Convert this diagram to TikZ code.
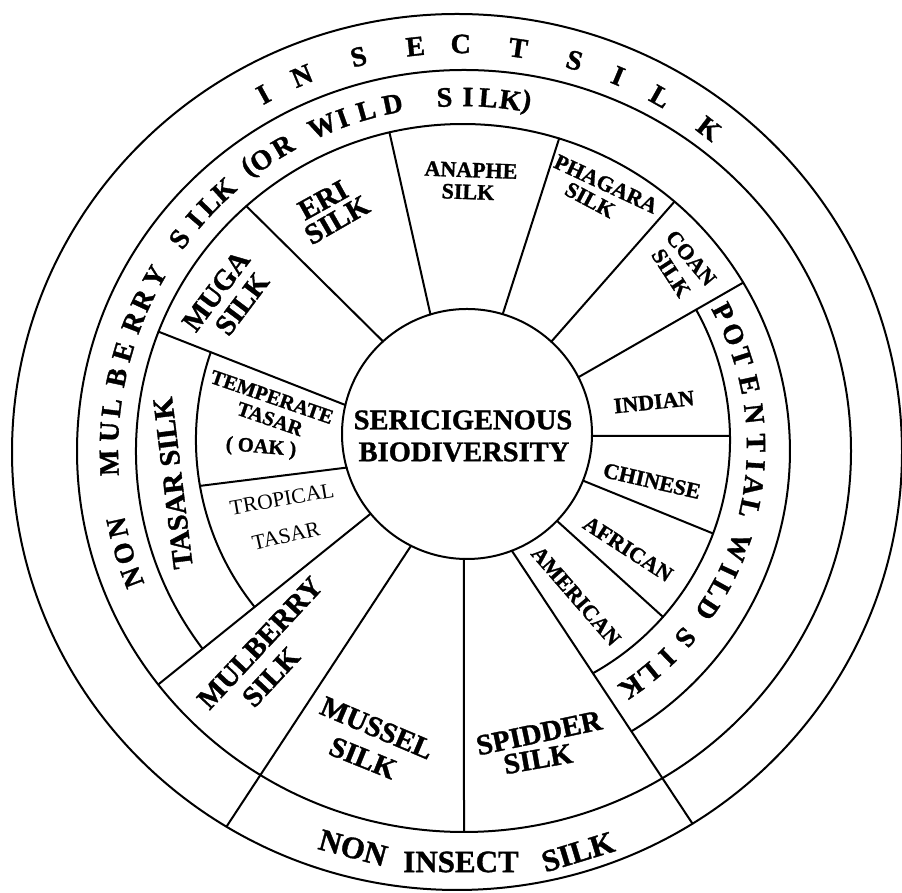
\documentclass[tikz,border=0pt]{standalone}
\usepackage{fontspec}
\setmainfont{Liberation Serif}[BoldFeatures={FakeBold=1.2}]
\usetikzlibrary{calc,intersections}
\begin{document}
\begin{tikzpicture}[x=1pt,y=1pt,
  ring/.style={line width=2pt},
  seg/.style={line width=2pt, line cap=round},
  rl/.style={inner sep=0pt, font=\bfseries\fontsize{28}{28}\selectfont},
  big/.style={inner sep=0pt, font=\bfseries\fontsize{29}{29}\selectfont},
  ctr/.style={inner sep=0pt, font=\bfseries\fontsize{28.5}{28.5}\selectfont},
  mid/.style={inner sep=0pt, font=\bfseries\fontsize{22}{22}\selectfont},
  smallb/.style={inner sep=0pt, font=\bfseries\fontsize{20.5}{20.5}\selectfont},
  thin/.style={inner sep=0pt, font=\fontsize{21.5}{21.5}\selectfont},
  bot/.style={inner sep=0pt, font=\bfseries\fontsize{31}{31}\selectfont}
]
\useasboundingbox (0,0) rectangle (902,893);
% centres
\coordinate (O1) at (457,441);
\coordinate (O2) at (464,442);
\coordinate (O3) at (463,442);
\coordinate (O4) at (463,453);
\coordinate (CC) at (467,459);
\coordinate (OI) at (460,441);
\coordinate (OP) at (463,446);
% full rings
\draw[ring] (O1) ellipse[x radius=445pt, y radius=438pt];
\draw[ring] (O2) ellipse[x radius=387pt, y radius=381pt];
\draw[ring] (CC) circle[radius=125pt];
\path[name path=C3] (O3) circle[radius=327pt];
\path[name path=C4] (O4) circle[radius=267pt];
% radial segment lines
\coordinate (a1) at ($(CC)+(132.2:125pt)$); \coordinate (b1) at ($(O3)+(131.5:327pt)$);
\coordinate (a2) at ($(CC)+(107.0:125pt)$); \coordinate (b2) at ($(O3)+(103.0:327pt)$);
\coordinate (a3) at ($(CC)+(73.4:125pt)$);  \coordinate (b3) at ($(O3)+(72.9:327pt)$);
\coordinate (a4) at ($(CC)+(47.6:125pt)$);  \coordinate (b4) at ($(O3)+(49.7:327pt)$);
\coordinate (a5) at ($(CC)+(27.0:125pt)$);  \coordinate (b5) at ($(O3)+(31.0:327pt)$);
\coordinate (a6) at ($(CC)+(166.6:125pt)$); \coordinate (b6) at ($(O3)+(158.6:327pt)$);
\coordinate (a7) at ($(CC)+(195.6:125pt)$); \coordinate (b7) at ($(O4)+(189.9:267pt)$);
\coordinate (a8) at ($(CC)+(219.6:125pt)$); \coordinate (b8) at ($(O2)+(217.8:387pt and 381pt)$);
\coordinate (a9) at ($(CC)+(243.4:125pt)$); \coordinate (b9) at ($(O1)+(238.8:445pt and 438pt)$);
\coordinate (a10) at ($(CC)+(268.6:125pt)$); \coordinate (b10) at ($(O2)+(-90:387pt and 381pt)$);
\coordinate (a11) at ($(CC)+(-0.9:125pt)$); \coordinate (b11) at ($(O4)+(0.86:267pt)$);
\coordinate (a12) at ($(CC)+(-21.9:125pt)$); \coordinate (b12) at ($(O4)+(-20.5:267pt)$);
\coordinate (a13) at ($(CC)+(-44.0:125pt)$); \coordinate (b13) at ($(O4)+(-41.5:267pt)$);
\coordinate (a14) at ($(CC)+(-69.0:125pt)$); \coordinate (b14) at ($(O1)+(-58.05:445pt and 438pt)$);
\draw[seg] (a1) -- (b1);
\draw[seg] (a2) -- (b2);
\draw[seg] (a3) -- (b3);
\draw[seg] (a4) -- (b4);
\draw[seg, name path=L5] (a5) -- (b5);
\draw[seg, name path=L6] (a6) -- (b6);
\draw[seg] (a7) -- (b7);
\draw[seg, name path=L8] (a8) -- (b8);
\draw[seg] (a9) -- (b9);
\draw[seg] (a10) -- (b10);
\draw[seg] (a11) -- (b11);
\draw[seg] (a12) -- (b12);
\draw[seg] (a13) -- (b13);
\draw[seg, name path=L14] (a14) -- (b14);
% arc end points
\path[name intersections={of=L6 and C4, by=X64}];
\path[name intersections={of=L8 and C4, by=X84}];
\path[name intersections={of=L8 and C3, by=X83}];
\path[name intersections={of=L5 and C4, by=X54}];
\path[name intersections={of=L14 and C4, by=X144}];
\path[name intersections={of=L14 and C3, by=X143}];
% partial rings
\draw[ring] let \p1=($(X64)-(O4)$), \p2=($(X84)-(O4)$),
  \n1={atan2(\y1,\x1)}, \n2={atan2(\y2,\x2)+360} in
  (X64) arc[start angle=\n1, end angle=\n2, radius=267pt];
\draw[ring] let \p1=($(X54)-(O4)$), \p2=($(X144)-(O4)$),
  \n1={atan2(\y1,\x1)}, \n2={atan2(\y2,\x2)} in
  (X54) arc[start angle=\n1, end angle=\n2, radius=267pt];
\draw[ring] let \p1=($(X83)-(O3)$), \p2=($(X143)-(O3)$),
  \n1={atan2(\y1,\x1)+360}, \n2={atan2(\y2,\x2)} in
  (X83) arc[start angle=\n1, end angle=\n2, radius=327pt];
% ring texts
\foreach \l/\a [count=\i] in {I/118.8, N/112.8, S/104.4, E/96.3, C/89.9, T/81.8, S/73.7, I/67.2, L/60.6, K/52.4}
  \node[rl, rotate=\a-90] (ins\i) at ($(OI)+(\a:408pt)$) {\l};
\foreach \l/\a [count=\i] in {N/200.9, O/196.8, N/192.5, M/181.9, U/176.9, L/173.0, B/168.0, E/163.7, R/158.7, R/154.8, Y/150.5, S/143.2, I/139.2, L/135.9, K/132.5, {(}/127.2, O/124.7, R/120.6, W/113.4, I/109.9, L/105.9, D/101.5, S/93.0, I/89.2, L/85.9, K/82.3, {)}/79.7}
  \node[rl, rotate=\a-90] (nm\i) at ($(O3)+(\a:354pt)$) {\l};
\foreach \l/\a [count=\i] in {P/27.4, O/22.6, T/17.9, E/12.3, N/6.5, T/0.8, I/-3.6, A/-7.6, L/-12.1, W/-20.0, I/-25.0, L/-29.1, D/-33.5, S/-40.6, I/-45.8, L/-50.7, K/-55.0}
  \node[rl, rotate=\a-90] (pw\i) at ($(OP)+(\a:293pt)$) {\l};
% centre
\node[ctr] (ser) at (463,473) {SERICIGENOUS};
\node[ctr] (bio) at (464,441) {BIODIVERSITY};
% segment labels
\node[big, rotate=29] (eri) at (323,693) {ERI};
\node[big, rotate=30] (eris) at (337,673) {SILK};
\node[big, rotate=53] (muga) at (216,602) {MUGA};
\node[big, rotate=53] (mugas) at (242,589) {SILK};
\node[mid, rotate=-2] (ana) at (471,723) {ANAPHE};
\node[mid, rotate=-2] (anas) at (468,701) {SILK};
\node[mid, rotate=-25] (pha) at (606,709) {PHAGARA};
\node[mid, rotate=-28] (phas) at (590,693) {SILK};
\node[mid, rotate=-50] (coan) at (691,635) {COAN};
\node[mid, rotate=-57] (coans) at (671,620) {SILK};
\node[smallb, rotate=-19] (temp) at (272,496) {TEMPERATE};
\node[smallb, rotate=-19] (temptas) at (270,474) {TASAR};
\node[smallb, rotate=-5] (oak) at (261,445) {( OAK )};
\node[thin, rotate=10] (trop) at (282,394) {TROPICAL};
\node[thin, rotate=13] (troptas) at (286,357) {TASAR};
\node[big, rotate=97] (tasar) at (173,410) {TASAR SILK};
\node[big, rotate=47] (mul) at (260,250) {MULBERRY};
\node[big, rotate=47] (muls) at (271,216) {SILK};
\node[big, rotate=-23] (mus) at (377,165) {MUSSEL};
\node[big, rotate=-22] (muss) at (363,135) {SILK};
\node[big, rotate=12] (spi) at (539,160) {SPIDDER};
\node[big, rotate=10] (spis) at (538,134) {SILK};
\node[mid, rotate=6] (ind) at (654,491) {INDIAN};
\node[mid, rotate=-13] (chi) at (652,412) {CHINESE};
\node[mid, rotate=-33] (afr) at (628,344) {AFRICAN};
\node[mid, rotate=-49] (ame) at (576,297) {AMERICAN};
% bottom band
\node[bot, rotate=-15] (non) at (353,45) {NON};
\node[bot] (insect) at (461,31) {INSECT};
\node[bot, rotate=17] (nsilk) at (578,41) {SILK};
\end{tikzpicture}
\end{document}
